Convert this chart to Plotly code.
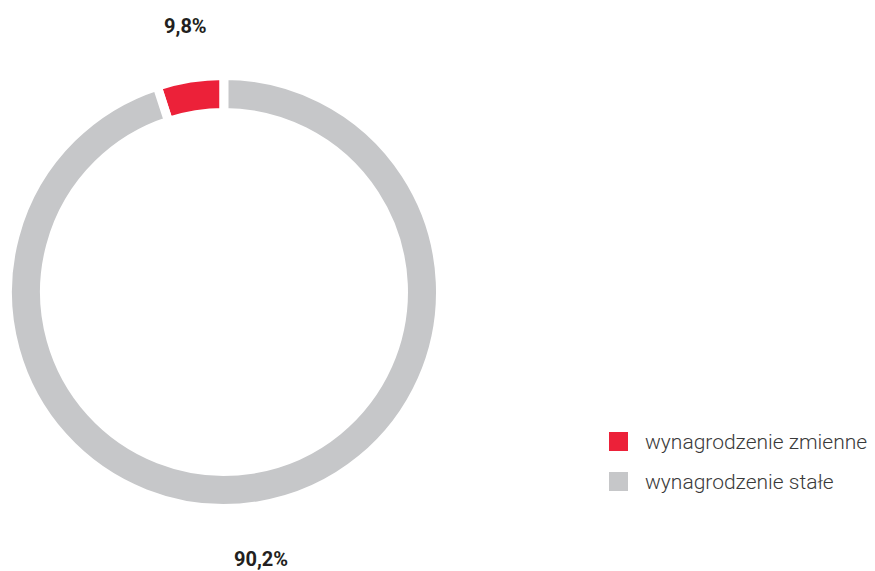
import plotly.graph_objects as go

# Data
categories = ["wynagrodzenie zmienne", "wynagrodzenie stałe"]
slice_shares = [5.0, 95.0]          # arc proportions as drawn in the reference
label_text = ["9,8%", "90,2%"]      # printed percentage labels
colors = ["#EC2139", "#C6C7C9"]

W, H = 875, 571
cx, cy = 224, 292          # donut centre (px from top-left)
r_path = 216.5
hole = 0.829

fig = go.Figure()
fig.add_trace(go.Pie(
    labels=categories,
    values=slice_shares,
    hole=hole,
    sort=False,
    direction="clockwise",
    rotation=-18,
    marker=dict(colors=colors, line=dict(color="white", width=9)),
    textinfo="none",
    hoverinfo="label+percent",
    showlegend=False,
    domain=dict(x=[(cx - r_path) / W, (cx + r_path) / W],
                y=[(H - cy - r_path) / H, (H - cy + r_path) / H]),
))

# Percentage labels (top and bottom)
label_pos = [(185, 26), (261, 559)]
for txt, (x, y) in zip(label_text, label_pos):
    fig.add_annotation(x=x / W, y=1 - y / H, xref="paper", yref="paper",
                       text=f"<b>{txt}</b>", showarrow=False,
                       font=dict(family="Roboto", size=20, color="#231F20"),
                       xanchor="center", yanchor="middle")

# Custom legend
leg_x, leg_y0, leg_dy, sq = 609, 441.5, 40, 19
for i, (name, col) in enumerate(zip(categories, colors)):
    yc = leg_y0 + i * leg_dy
    fig.add_shape(type="rect", xref="paper", yref="paper",
                  x0=leg_x / W, x1=(leg_x + sq) / W,
                  y0=1 - (yc + sq / 2) / H, y1=1 - (yc - sq / 2) / H,
                  fillcolor=col, line=dict(width=0))
    fig.add_annotation(x=643 / W, y=1 - yc / H, xref="paper", yref="paper",
                       text=name, showarrow=False,
                       font=dict(family="Roboto", size=21, color="#3A3A3A", weight=300),
                       xanchor="left", yanchor="middle")

fig.update_layout(
    width=W, height=H,
    margin=dict(l=0, r=0, t=0, b=0),
    paper_bgcolor="white",
    plot_bgcolor="white",
)

fig.write_html("out.html", config={"displayModeBar": False},
               post_script="document.body.style.margin='0';document.body.style.overflow='hidden';")
